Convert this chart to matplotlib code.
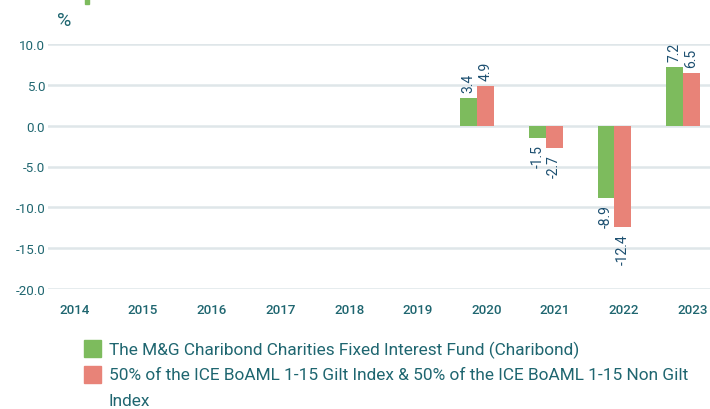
import matplotlib.pyplot as plt
import matplotlib.transforms as mtransforms
import numpy as np

years = ["2014", "2015", "2016", "2017", "2018", "2019", "2020", "2021", "2022", "2023"]
fund = [None, None, None, None, None, None, 3.4, -1.5, -8.9, 7.2]
index = [None, None, None, None, None, None, 4.9, -2.7, -12.4, 6.5]
fund_label = "The M&G Charibond Charities Fixed Interest Fund (Charibond)"
index_label = ["50% of the ICE BoAML 1-15 Gilt Index & 50% of the ICE BoAML 1-15 Non Gilt", "Index"]
yticks = [10, 5, 0, -5, -10, -15, -20]

plt.rcParams["font.family"] = ["Roboto", "DejaVu Sans"]

teal = "#1f6670"
green = "#7dbb5d"
red = "#e88378"
lblc = "#1c4f70"

W, H = 710, 410
fig = plt.figure(figsize=(W / 100, H / 100), dpi=100)
ax = fig.add_axes([48 / W, (H - 290) / H, 1 - 48 / W, 245 / H])

x = np.arange(len(years))
w = 0.245
for i in range(len(years)):
    if fund[i] is None:
        continue
    for off, vals, c in ((-w / 2, fund, green), (w / 2, index, red)):
        v = vals[i]
        ax.bar(x[i] + off, v, w, color=c, zorder=3)
        dy = 4.3 if v >= 0 else -4.3
        ax.annotate(f"{v:.1f}", (x[i] + off, v), xytext=(0, dy), textcoords="offset points",
                    rotation=90, ha="center", va="bottom" if v >= 0 else "top",
                    color=lblc, fontsize=10, annotation_clip=False)

ax.set_xlim(-0.2476, 9.393)
ax.set_ylim(-20, 10)
ax.set_yticks(yticks)
ax.set_yticklabels([f"{t:.1f}" for t in yticks])
ax.set_xticks(x)
ax.set_xticklabels(years, fontweight="medium")
ax.grid(axis="y", color="#dfe6e9", lw=1.8, zorder=0)
ax.tick_params(length=0, colors=teal, labelsize=9.6)
ax.tick_params(axis="y", pad=2)
ax.tick_params(axis="x", pad=10)
shift = mtransforms.ScaledTranslation(9.5 / 100, 0, fig.dpi_scale_trans)
for lab in ax.get_xticklabels():
    lab.set_transform(lab.get_transform() + shift)
for s in ax.spines.values():
    s.set_visible(False)

fig.text(64 / W, 1 - 21 / H, "%", color=teal, fontsize=14, ha="center", va="center")
fig.patches.append(plt.Rectangle((85 / W, 1 - 5 / H), 4 / W, 5 / H, color=green,
                                 transform=fig.transFigure))

fig.patches.append(plt.Rectangle((84 / W, 1 - 358 / H), 17 / W, 17 / H,
                                 color=green, transform=fig.transFigure))
fig.patches.append(plt.Rectangle((84 / W, 1 - 384 / H), 17 / W, 17 / H,
                                 color=red, transform=fig.transFigure))
t1 = fig.text(109 / W, 1 - 350 / H, fund_label, color=teal, fontsize=12, va="center")
fig.canvas.draw()
fs = 12 * 469 / t1.get_window_extent().width
t1.set_fontsize(fs)
fig.text(109 / W, 1 - 376 / H, index_label[0], color=teal, fontsize=fs, va="center")
fig.text(109 / W, 1 - 402 / H, index_label[1], color=teal, fontsize=fs, va="center")

fig.savefig("out.png", dpi=100)
